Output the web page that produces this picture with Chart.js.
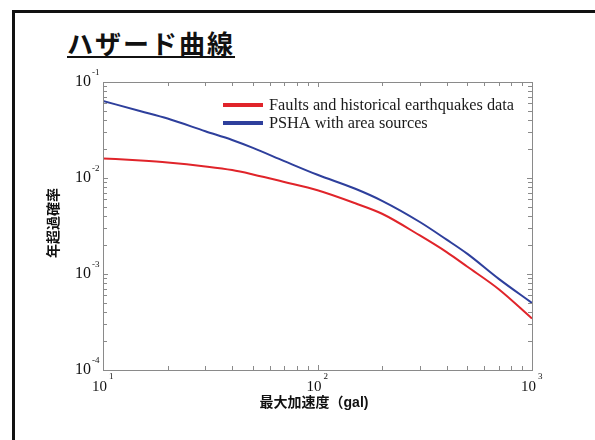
<!DOCTYPE html>
<html>
<head>
<meta charset="utf-8">
<script src="https://cdn.jsdelivr.net/npm/chart.js@4"></script>
<style>
  html, body { margin: 0; padding: 0; background: #fff; }
  #wrap { position: relative; width: 595px; height: 440px; overflow: hidden; }
  #frame { position: absolute; left: 12px; top: 10px; width: 580px; height: 440px;
           border-left: 3px solid #111; border-top: 3px solid #111; border-right: 1px solid #888; }
  #title { position: absolute; left: 67px; top: 26px; font: bold 26px "Noto Sans CJK JP", sans-serif;
           color: #111; text-decoration: underline; text-underline-offset: 2px; text-decoration-thickness: 2px;
           letter-spacing: 2px; line-height: 34px; }
  canvas { position: absolute; left: 0; top: 0; }
</style>
</head>
<body>
<div id="wrap">
  <div id="frame"></div>
  <div id="title">ハザード曲線</div>
  <canvas id="c" width="595" height="440"></canvas>
</div>
<script>
// Peak ground acceleration (gal)
const accel = [10, 15, 20, 30, 40, 50, 70, 100, 150, 200, 300, 400, 500, 700, 1000];
// Annual exceedance probability
const faultsHistorical = [0.0160, 0.0152, 0.0145, 0.0132, 0.0121, 0.0109, 0.00910, 0.00745, 0.00545, 0.00424, 0.00252, 0.00169, 0.00119, 0.000695, 0.000344];
const pshaArea = [0.0634, 0.0496, 0.0416, 0.0307, 0.0249, 0.0206, 0.0150, 0.0108, 0.00772, 0.00578, 0.00348, 0.00228, 0.00162, 0.000890, 0.000499];
const seriesLabels = ["Faults and historical earthquakes data", "PSHA with area sources"];
const xTickDecades = [1, 2, 3];
const yTickDecades = [-1, -2, -3, -4];
const xTitle = "最大加速度（gal)";
const yTitle = "年超過確率";

const AXIS = "#8a8a8a";
const SERIF = '"Liberation Serif", "Times New Roman", serif';
const GOTH = '"Liberation Sans", "Noto Sans CJK JP", sans-serif';

const decor = {
  id: 'decor',
  afterDraw(chart) {
    const ctx = chart.ctx;
    const xs = chart.scales.x, ys = chart.scales.y;
    const a = chart.chartArea;
    ctx.save();
    // box
    ctx.strokeStyle = AXIS; ctx.lineWidth = 1;
    ctx.strokeRect(Math.round(a.left) + 0.5, Math.round(a.top) + 0.5,
                   Math.round(a.right - a.left), Math.round(a.bottom - a.top));
    // inward ticks (log minor + major) on all sides
    ctx.beginPath();
    for (let d = Math.log10(xs.min); d < Math.log10(xs.max) + 0.001; d++) {
      for (let m = 1; m <= 9; m++) {
        const v = m * Math.pow(10, d);
        if (v > xs.max * 1.0001) break;
        const px = Math.round(xs.getPixelForValue(v)) + 0.5;
        const L = m === 1 ? 5 : 4;
        ctx.moveTo(px, a.bottom); ctx.lineTo(px, a.bottom - L);
        ctx.moveTo(px, a.top); ctx.lineTo(px, a.top + L);
      }
    }
    for (let d = Math.log10(ys.min); d < Math.log10(ys.max) + 0.001; d++) {
      for (let m = 1; m <= 9; m++) {
        const v = m * Math.pow(10, d);
        if (v > ys.max * 1.0001) break;
        const py = Math.round(ys.getPixelForValue(v)) + 0.5;
        const L = m === 1 ? 5 : 4;
        ctx.moveTo(a.left, py); ctx.lineTo(a.left + L, py);
        ctx.moveTo(a.right, py); ctx.lineTo(a.right - L, py);
      }
    }
    ctx.stroke();

    // tick labels
    ctx.fillStyle = "#111";
    yTickDecades.forEach(e => {
      const py = ys.getPixelForValue(Math.pow(10, e));
      ctx.font = "16px " + SERIF; ctx.textAlign = "right"; ctx.textBaseline = "middle";
      ctx.fillText("10", 91, py);
      ctx.font = "9px " + SERIF; ctx.textAlign = "left";
      ctx.fillText(String(e), 92, py - 9);
    });
    xTickDecades.forEach(e => {
      const px = xs.getPixelForValue(Math.pow(10, e));
      ctx.font = "15px " + SERIF; ctx.textAlign = "right"; ctx.textBaseline = "middle";
      ctx.fillText("10", px + 4, 387);
      ctx.font = "9px " + SERIF; ctx.textAlign = "left";
      ctx.fillText(String(e), px + 6, 377);
    });

    // axis titles
    ctx.font = "bold 14px " + GOTH;
    ctx.textAlign = "center"; ctx.textBaseline = "middle";
    ctx.fillText(xTitle, 314, 403);
    ctx.save();
    ctx.translate(54, 223);
    ctx.rotate(-Math.PI / 2);
    ctx.fillText(yTitle, 0, 0);
    ctx.restore();

    // legend
    const rows = [106, 124];
    chart.data.datasets.forEach((ds, i) => {
      ctx.strokeStyle = ds.borderColor; ctx.lineWidth = 4;
      ctx.beginPath(); ctx.moveTo(223, rows[i] - 1); ctx.lineTo(263, rows[i] - 1); ctx.stroke();
      ctx.fillStyle = "#1a1a1a";
      ctx.font = "16.3px " + SERIF; ctx.textAlign = "left"; ctx.textBaseline = "middle";
      ctx.fillText(ds.label, 269, rows[i]);
    });
    ctx.restore();
  }
};

new Chart(document.getElementById('c'), {
  type: 'line',
  data: {
    datasets: [
      { label: seriesLabels[0], data: accel.map((x, i) => ({ x, y: faultsHistorical[i] })),
        borderColor: '#e0242a', borderWidth: 2, pointRadius: 0, cubicInterpolationMode: 'monotone', fill: false },
      { label: seriesLabels[1], data: accel.map((x, i) => ({ x, y: pshaArea[i] })),
        borderColor: '#2e3f9c', borderWidth: 2, pointRadius: 0, cubicInterpolationMode: 'monotone', fill: false }
    ]
  },
  options: {
    responsive: false,
    animation: false,
    layout: { padding: { left: 103, top: 82, right: 63, bottom: 70 } },
    plugins: { legend: { display: false }, tooltip: { enabled: false }, title: { display: false } },
    scales: {
      x: { type: 'logarithmic', min: 10, max: 1000, display: false },
      y: { type: 'logarithmic', min: 0.0001, max: 0.1, display: false }
    }
  },
  plugins: [decor]
});
</script>
</body>
</html>
